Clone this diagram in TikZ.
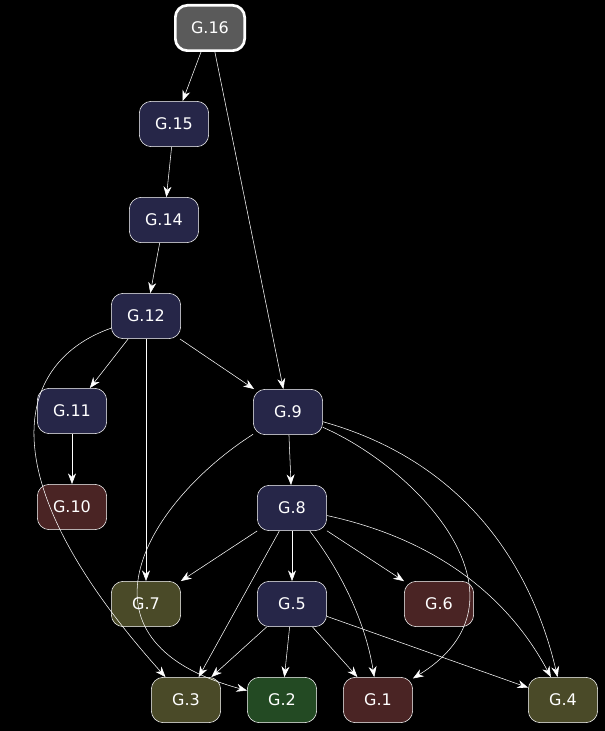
\documentclass[tikz,border=0pt]{standalone}
\usepackage{fontspec}
\setmainfont{DejaVu Sans}
\usetikzlibrary{arrows.meta}
\definecolor{navy}{HTML}{262648}
\definecolor{wine}{HTML}{4A2424}
\definecolor{olive}{HTML}{4A4A28}
\definecolor{leaf}{HTML}{234A23}
\definecolor{slate}{HTML}{5A5A5A}
\tikzset{gnode/.style={draw=white, rounded corners=9pt, minimum width=52pt, minimum height=34pt, text=white, font=\fontsize{12}{12}\selectfont},
  edge/.style={draw=white, -{Stealth[length=8pt,width=6pt]}}}

\begin{document}
\begin{tikzpicture}[x=0.75pt,y=-0.75pt]
        \fill[black] (0,0) rectangle (605,731);
        \useasboundingbox (0,0) rectangle (605,731);

        % top chain
        \node (g16) at (210,28) [gnode, fill=slate, line width=2pt] {G.16};
        \node (g15) at (174,124) [gnode, fill=navy] {G.15};
        \node (g14) at (164,220) [gnode, fill=navy] {G.14};
        \node (g12) at (146,316) [gnode, fill=navy] {G.12};
        \node (g11) at (72,411) [gnode, fill=navy] {G.11};
        \node (g9) at (288,412) [gnode, fill=navy] {G.9};
        \node (g10) at (72,507) [gnode, fill=wine] {G.10};
        \node (g8) at (292,508) [gnode, fill=navy] {G.8};
        \node (g7) at (146,604) [gnode, fill=olive] {G.7};
        \node (g5) at (292,604) [gnode, fill=navy] {G.5};
        \node (g6) at (439,604) [gnode, fill=wine] {G.6};
        \node (g3) at (186,700) [gnode, fill=olive] {G.3};
        \node (g2) at (282,700) [gnode, fill=leaf] {G.2};
        \node (g1) at (378,700) [gnode, fill=wine] {G.1};
        \node (g4) at (563,700) [gnode, fill=olive] {G.4};

        \draw[edge] (g16) to (g15);
        \draw[edge] (g16) to (g9);
        \draw[edge] (g15) to (g14);
        \draw[edge] (g14) to (g12);
        \draw[edge] (g12) to (g11);
        \draw[edge] (g12) to (g9);
        \draw[edge] (g12) to (g7);
        \draw[edge] (g12) .. controls (20,360) and (-20,470) .. (g3);
        \draw[edge] (g11) to (g10);
        \draw[edge] (g9) to (g8);
        \draw[edge] (g9) .. controls (150,500) and (60,640) .. (g2);
        \draw[edge] (g9) .. controls (420,470) and (540,600) .. (g1);
        \draw[edge] (g9) .. controls (460,460) and (530,560) .. (g4);
        \draw[edge] (g8) to (g7);
        \draw[edge] (g8) to (g5);
        \draw[edge] (g8) to (g6);
        \draw[edge] (g8) to (g3);
        \draw[edge] (g8) .. controls (340,570) and (365,620) .. (g1);
        \draw[edge] (g8) .. controls (440,540) and (510,600) .. (g4);
        \draw[edge] (g5) to (g3);
        \draw[edge] (g5) to (g2);
        \draw[edge] (g5) to (g1);
        \draw[edge] (g5) to (g4);
\end{tikzpicture}
\end{document}
